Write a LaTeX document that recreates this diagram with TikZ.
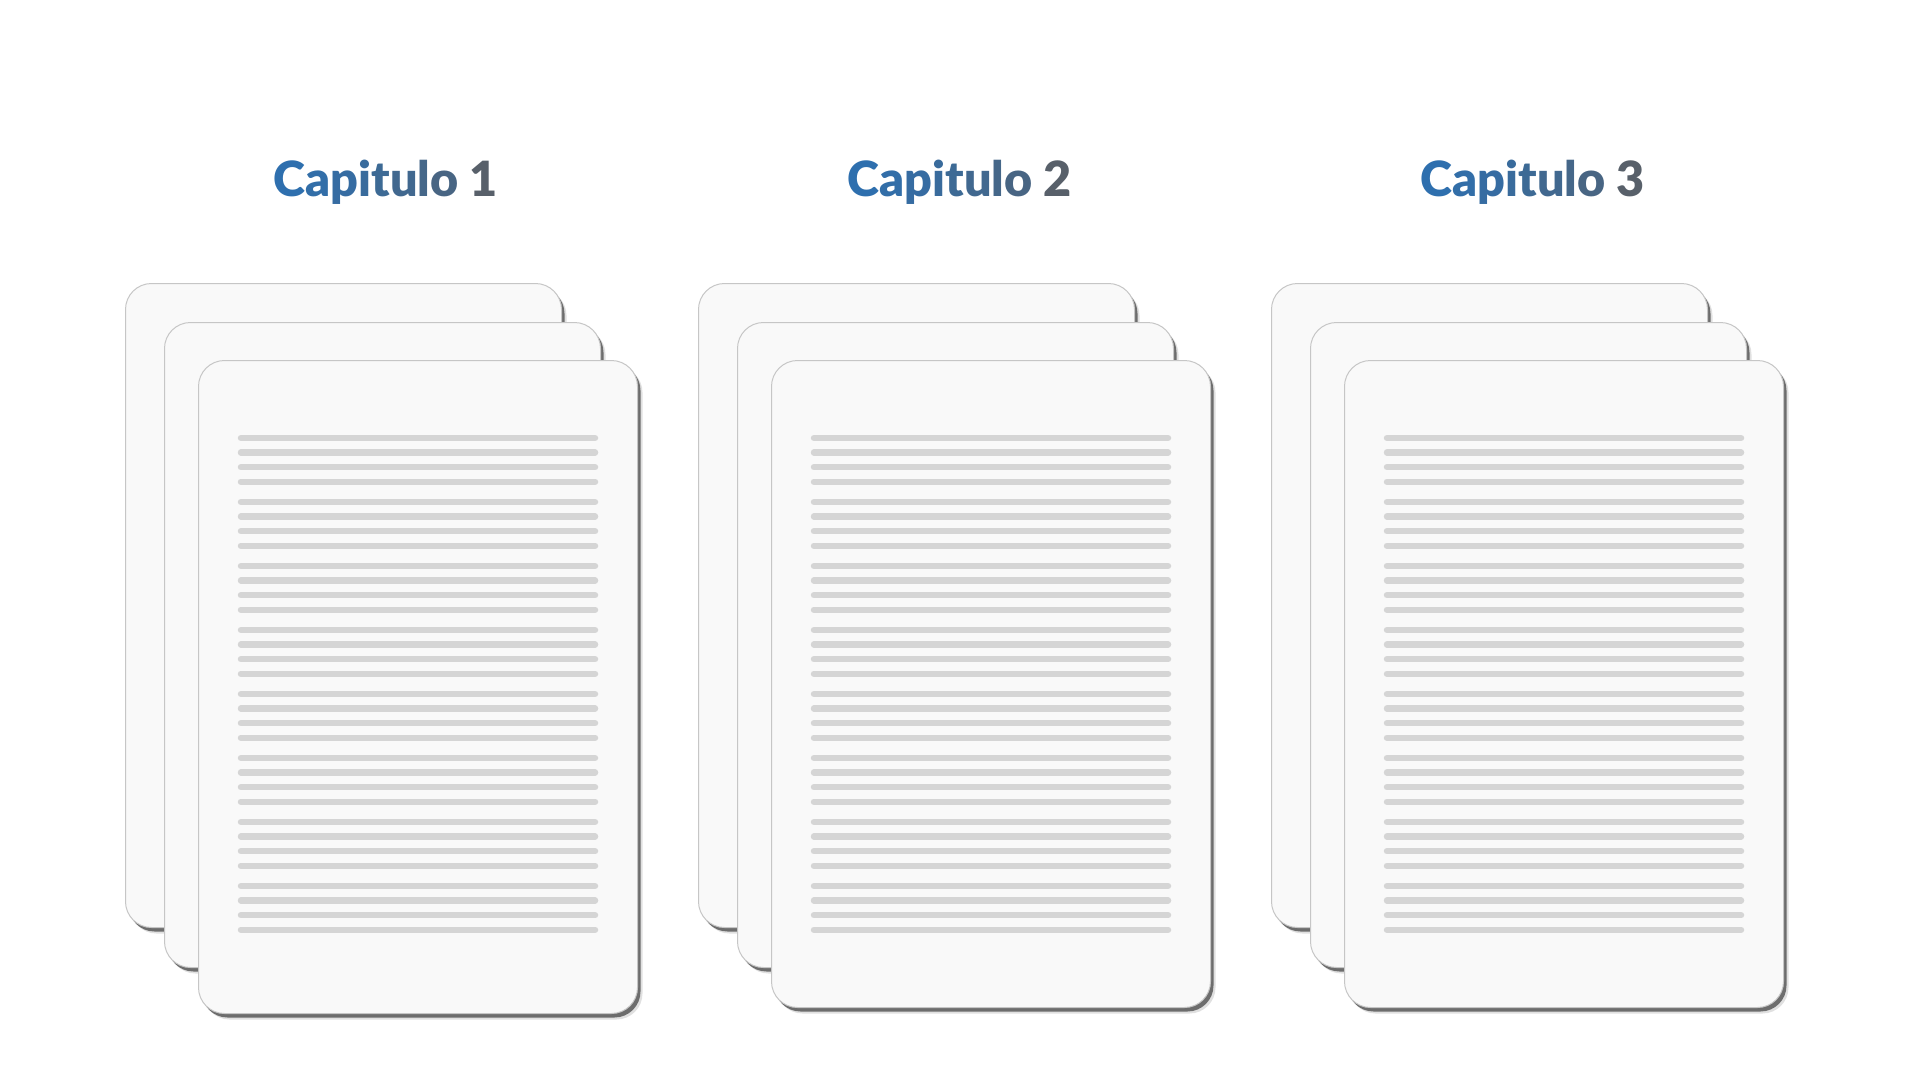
\documentclass[tikz,border=0pt]{standalone}
\usepackage{fontspec}
\setmainfont{Lato}
\newfontfamily\titlefont{Lato Black}
\usetikzlibrary{shadows}

\definecolor{pagefill}{HTML}{F9F9F9}
\definecolor{pageedge}{HTML}{C6C6C6}
\definecolor{lineclr}{HTML}{D5D5D5}
\definecolor{capblue}{HTML}{2E6FAE}
\definecolor{capgray}{HTML}{58606A}

% title letters fade from blue to slate gray
\newcommand{\captitle}[1]{%
  \foreach \ch [count=\i] in {C,a,p,i,t,u,l,o}{%
    \pgfmathtruncatemacro\pct{100-(\i-1)*9}\textcolor{capblue!\pct!capgray}{\ch}}%
  \ \textcolor{capgray}{#1}}

\begin{document}
\begin{tikzpicture}[
  x=1pt,y=-1pt,
  title/.style={font=\titlefont\fontsize{48.5}{58}\selectfont,anchor=base,inner sep=0pt},
  page/.style={draw=pageedge,line width=1pt,fill=pagefill,rounded corners=26pt,
               anchor=north west,inner sep=0pt,
               drop shadow={shadow xshift=5pt,shadow yshift=-6pt,fill=black,opacity=0.12},
               drop shadow={shadow xshift=3pt,shadow yshift=-4pt,fill=black!65,opacity=0.85}},
  txtline/.style={draw=lineclr,line width=6.5pt,line cap=round}]

\fill[white] (0,0) rectangle (1920,1080);
\useasboundingbox (0,0) rectangle (1920,1080);

\node[title] (t1) at (386,196) {\captitle{1}};
\node[title] (t2) at (960,196) {\captitle{2}};
\node[title] (t3) at (1533,196) {\captitle{3}};

\foreach \s/\dx/\fh in {1/0/653,2/573/647,3/1146/647}{
  \node[page,minimum width=436pt,minimum height=644pt] (b\s) at (125+\dx,283) {};
  \node[page,minimum width=436pt,minimum height=645pt] (m\s) at (164+\dx,322) {};
  \node[page,minimum width=439pt,minimum height=\fh pt] (f\s) at (198+\dx,360) {};
  % text lines, 8 paragraphs of 4
  \foreach \g in {0,...,7}
    \foreach \l in {0,...,3}
      \draw[txtline] (241+\dx,438+64*\g+14.6*\l) -- (595+\dx,438+64*\g+14.6*\l);
}
\end{tikzpicture}
\end{document}
